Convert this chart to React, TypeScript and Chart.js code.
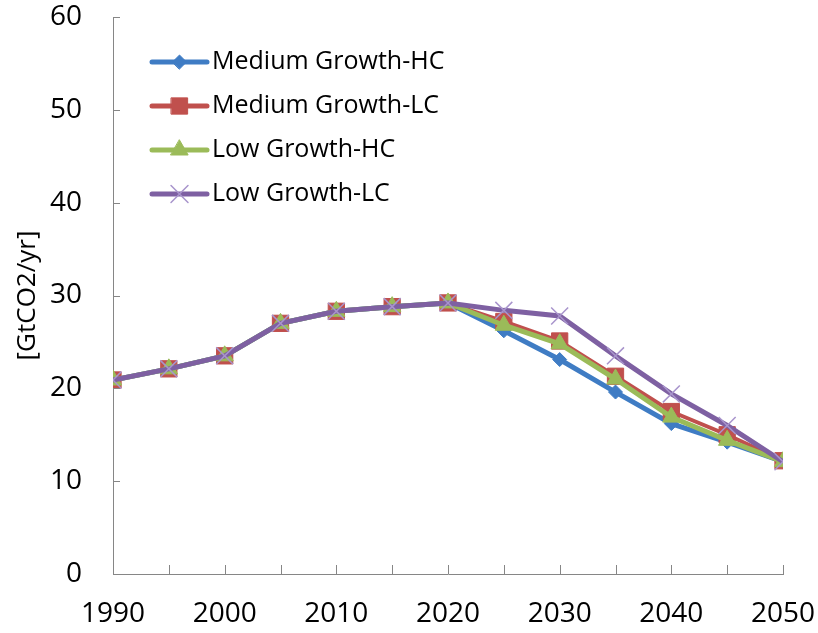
import React, { useEffect, useRef } from "react";
import { Chart, registerables } from "chart.js";
import { drawPoint } from "chart.js/helpers";

Chart.register(...registerables);

const years = [1990, 1995, 2000, 2005, 2010, 2015, 2020, 2025, 2030, 2035, 2040, 2045, 2050];
const mediumGrowthHC = [20.9, 22.1, 23.5, 27.0, 28.3, 28.8, 29.2, 26.2, 23.1, 19.6, 16.2, 14.2, 12.1];
const mediumGrowthLC = [20.9, 22.1, 23.5, 27.0, 28.3, 28.8, 29.2, 27.2, 25.1, 21.3, 17.5, 15.0, 12.2];
const lowGrowthHC = [20.9, 22.1, 23.5, 27.0, 28.3, 28.8, 29.2, 26.8, 24.8, 21.0, 16.9, 14.4, 12.1];
const lowGrowthLC = [20.9, 22.1, 23.5, 27.0, 28.3, 28.8, 29.2, 28.4, 27.8, 23.5, 19.4, 16.0, 12.1];
const seriesNames = ["Medium Growth-HC", "Medium Growth-LC", "Low Growth-HC", "Low Growth-LC"];
const yAxisTitle = "[GtCO2/yr]";

const FONT = "'Open Sans', 'Liberation Sans', sans-serif";
const AXIS = "#868686";

const toPoints = (vals: number[]) => vals.map((v, i) => ({ x: years[i], y: v }));

const innerTicks = {
  id: "innerTicks",
  afterDraw(chart: any) {
    const ctx = chart.ctx;
    const x = chart.scales.x;
    const y = chart.scales.y;
    ctx.save();
    ctx.strokeStyle = AXIS;
    ctx.lineWidth = 1;
    ctx.beginPath();
    y.ticks.forEach((t: any) => {
      const py = Math.round(y.getPixelForValue(t.value)) + 0.5;
      ctx.moveTo(x.left, py);
      ctx.lineTo(x.left + 7, py);
    });
    x.ticks.forEach((t: any) => {
      const px = Math.round(x.getPixelForValue(t.value)) + 0.5;
      ctx.moveTo(px, y.bottom);
      ctx.lineTo(px, y.bottom - 9);
    });
    ctx.stroke();
    ctx.restore();
  },
};

const insideLegend = {
  id: "insideLegend",
  afterDraw(chart: any) {
    const ctx = chart.ctx;
    const area = chart.chartArea;
    ctx.save();
    chart.data.datasets.forEach((ds: any, i: number) => {
      const cy = area.top + 45 + i * 44;
      const x0 = area.left + 39;
      const x1 = area.left + 94;
      ctx.strokeStyle = ds.borderColor;
      ctx.lineWidth = 5;
      ctx.lineCap = "round";
      ctx.beginPath();
      ctx.moveTo(x0, cy);
      ctx.lineTo(x1, cy);
      ctx.stroke();
      ctx.fillStyle = ds.pointBackgroundColor;
      ctx.strokeStyle = ds.pointBorderColor;
      ctx.lineWidth = ds.pointBorderWidth;
      drawPoint(ctx, {
        pointStyle: ds.pointStyle,
        radius: ds.pointRadius,
        rotation: 0,
        borderWidth: ds.pointBorderWidth,
      } as any, (x0 + x1) / 2, cy);
      ctx.fillStyle = "#000";
      ctx.font = `25px ${FONT}`;
      ctx.textAlign = "left";
      ctx.textBaseline = "middle";
      ctx.fillText(ds.label, x1 + 5, cy);
    });
    ctx.restore();
  },
};

export default function App() {
  const ref = useRef<HTMLCanvasElement | null>(null);
  useEffect(() => {
    if (!ref.current) return;
    const chart = new Chart(ref.current, {
      type: "line",
      data: {
        datasets: [
          {
            label: seriesNames[0],
            data: toPoints(mediumGrowthHC),
            borderColor: "#3F7CC4",
            borderWidth: 5,
            pointStyle: "rectRot",
            pointRadius: 7,
            pointBackgroundColor: "#3F7CC4",
            pointBorderColor: "#3F7CC4",
            pointBorderWidth: 1,
            order: 4,
          },
          {
            label: seriesNames[1],
            data: toPoints(mediumGrowthLC),
            borderColor: "#C0504D",
            borderWidth: 4,
            pointStyle: "rect",
            pointRadius: 11.5,
            pointBackgroundColor: "#C0504D",
            pointBorderColor: "#C0504D",
            pointBorderWidth: 1,
            order: 3,
          },
          {
            label: seriesNames[2],
            data: toPoints(lowGrowthHC),
            borderColor: "#9BBB59",
            borderWidth: 5,
            pointStyle: "triangle",
            pointRadius: 10,
            pointBackgroundColor: "#9BBB59",
            pointBorderColor: "#9BBB59",
            pointBorderWidth: 1,
            order: 2,
          },
          {
            label: seriesNames[3],
            data: toPoints(lowGrowthLC),
            borderColor: "#7E60A2",
            borderWidth: 5,
            pointStyle: "crossRot",
            pointRadius: 12,
            pointBackgroundColor: "#A894CC",
            pointBorderColor: "#A894CC",
            pointBorderWidth: 1.5,
            order: 1,
          },
        ],
      },
      options: {
        responsive: false,
        animation: false,
        layout: { padding: { top: 17, right: 35, bottom: 0, left: 0 } },
        plugins: { legend: { display: false }, tooltip: { enabled: false } },
        scales: {
          x: {
            type: "linear",
            min: 1990,
            max: 2050,
            afterFit: (s: any) => {
              s.height = 59;
              s.paddingLeft = 0;
              s.paddingRight = 0;
            },
            grid: { display: false, drawTicks: false },
            border: { display: true, color: AXIS, width: 1 },
            ticks: {
              stepSize: 5,
              autoSkip: false,
              maxRotation: 0,
              padding: 23,
              color: "#000",
              font: { family: FONT, size: 28 },
              callback: (v: any) => (Number(v) % 10 === 0 ? String(v) : ""),
            },
          },
          y: {
            min: 0,
            max: 60,
            afterFit: (s: any) => {
              s.width = 113;
              s.paddingTop = 0;
              s.paddingBottom = 0;
            },
            grid: { display: false, drawTicks: false },
            border: { display: true, color: AXIS, width: 1 },
            ticks: {
              stepSize: 10,
              padding: 31,
              color: "#000",
              font: { family: FONT, size: 28 },
            },
            title: {
              display: true,
              text: yAxisTitle,
              color: "#000",
              font: { family: FONT, size: 26 },
              padding: { top: 12, bottom: 0 },
            },
          },
        },
      },
      plugins: [innerTicks, insideLegend],
    } as any);
    return () => chart.destroy();
  }, []);
  return (
    <div style={{ position: "absolute", left: 0, top: 0, width: 818, height: 633, background: "#fff" }}>
      <canvas ref={ref} width={818} height={633} />
    </div>
  );
}
